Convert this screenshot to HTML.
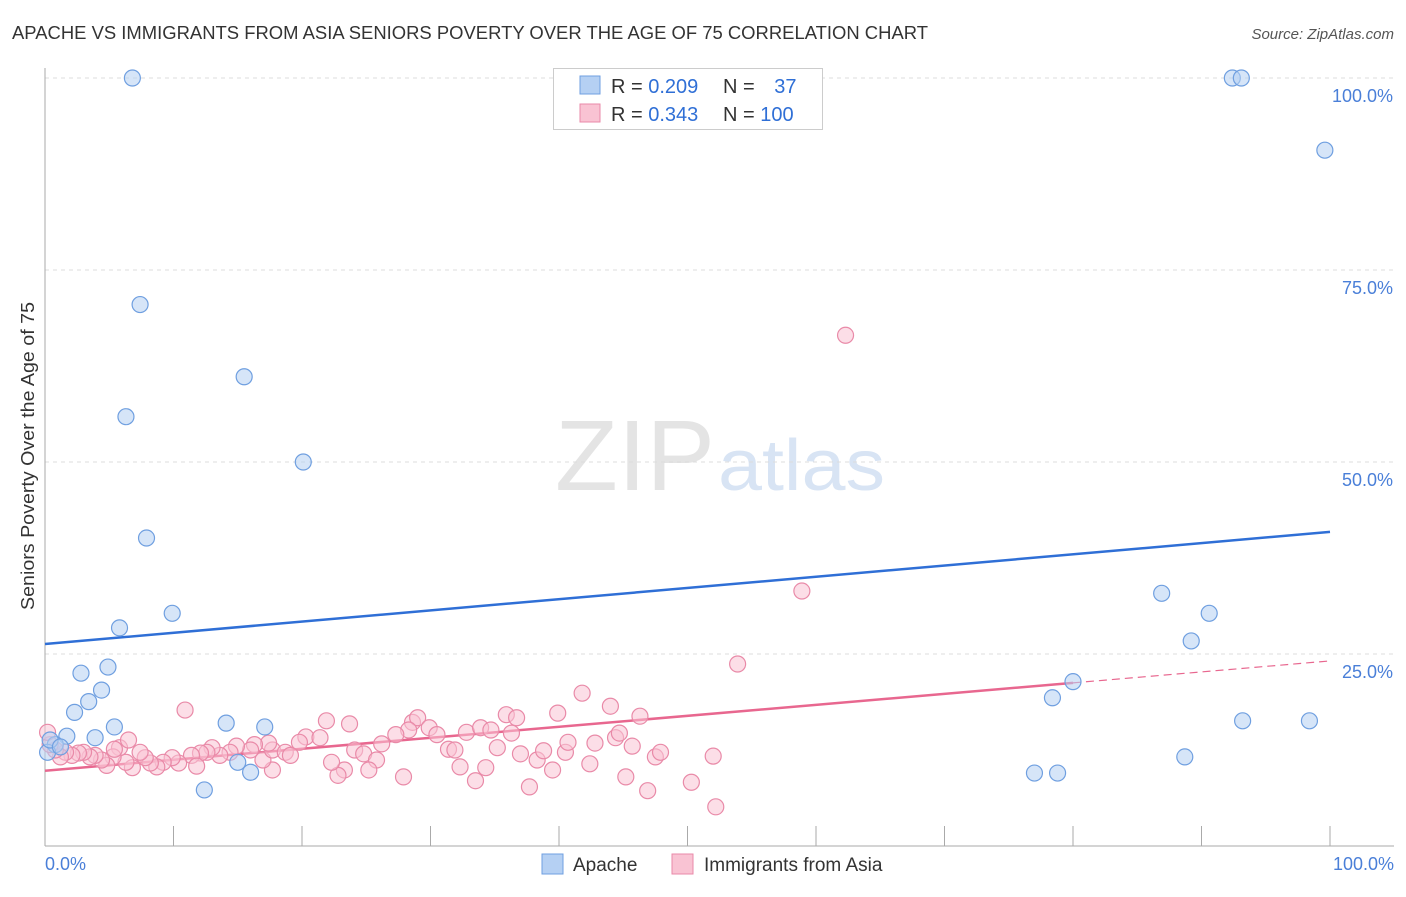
<!DOCTYPE html>
<html><head><meta charset="utf-8"><style>
body{margin:0;background:#fff;font-family:"Liberation Sans",sans-serif}
svg text{font-family:"Liberation Sans",sans-serif}
</style></head><body>
<svg id="chart" width="1406" height="892" viewBox="0 0 1406 892">
<text x="12" y="39" font-size="18" fill="#333" textLength="916" lengthAdjust="spacingAndGlyphs">APACHE VS IMMIGRANTS FROM ASIA SENIORS POVERTY OVER THE AGE OF 75 CORRELATION CHART</text>
<text x="1394" y="39" font-size="15" fill="#555" font-style="italic" text-anchor="end">Source: ZipAtlas.com</text>
<text x="555" y="490" font-size="100" fill="#e4e4e4" textLength="160" lengthAdjust="spacingAndGlyphs" font-family="Liberation Serif">ZIP</text>
<text x="718" y="490" font-size="72" fill="#d8e4f4" textLength="167" lengthAdjust="spacingAndGlyphs">atlas</text>
<g id="grid"></g><g id="axes"></g><g id="lines"></g><g id="pts"></g>
<text transform="translate(34,456) rotate(-90)" font-size="18" fill="#333" text-anchor="middle" textLength="308" lengthAdjust="spacingAndGlyphs">Seniors Poverty Over the Age of 75</text>
<text x="45" y="870" font-size="18" fill="#4a7fd8">0.0%</text>
<text x="1394" y="870" font-size="18" fill="#4a7fd8" text-anchor="end">100.0%</text>
<g>
<rect x="553.5" y="68.5" width="269" height="61" fill="#fff" stroke="#ccc"/>
<rect x="580" y="76" width="20" height="18" fill="#b5d0f3" stroke="#6f9fe0"/>
<rect x="580" y="104" width="20" height="18" fill="#f9c3d3" stroke="#e98aa8"/>
<text x="611" y="93" font-size="20" fill="#333">R = <tspan fill="#2f6fd6">0.209</tspan></text>
<text x="723" y="93" font-size="20" fill="#333">N = <tspan fill="#2f6fd6" dx="14">37</tspan></text>
<text x="611" y="121" font-size="20" fill="#333">R = <tspan fill="#2f6fd6">0.343</tspan></text>
<text x="723" y="121" font-size="20" fill="#333">N = <tspan fill="#2f6fd6">100</tspan></text>
</g>
<g>
<rect x="542" y="854" width="21" height="20" fill="#b5d0f3" stroke="#6f9fe0"/>
<text x="573" y="871" font-size="19" fill="#333">Apache</text>
<rect x="672" y="854" width="21" height="20" fill="#f9c3d3" stroke="#e98aa8"/>
<text x="704" y="871" font-size="19" fill="#333">Immigrants from Asia</text>
</g>
</svg>
<script>
const blueX=[6.8,92.4,93.1,99.6,7.4,15.5,6.3,20.1,7.9,9.9,5.8,86.9,90.6,89.2,2.8,4.9,4.4,3.4,2.3,5.4,14.1,17.1,80,78.4,93.2,98.4,88.7,77,78.8,3.9,1.7,0.8,0.2,0.4,15,16,12.4,1.2];
const blueY=[100,100,100,90.6,70.5,61.1,55.9,50,40.1,30.3,28.4,32.9,30.3,26.7,22.5,23.3,20.3,18.8,17.4,15.5,16,15.5,21.4,19.3,16.3,16.3,11.6,9.5,9.5,14.1,14.3,13.2,12.2,13.8,10.9,9.6,7.3,12.9];
const pinkX=[62.3,58.9,53.9,10.9,41.8,44,46.3,35.9,36.7,39.9,21.9,23.7,28.6,29,28.3,29.9,30.5,32.8,33.9,34.7,36.3,20.3,21.4,19.8,27.3,26.2,24.1,24.8,31.4,31.9,35.2,37,38.3,38.8,40.5,40.7,42.8,44.4,44.7,45.7,47.5,47.9,52,42.4,45.2,46.9,50.3,52.2,39.5,37.7,33.5,34.3,32.3,27.9,25.8,25.2,23.3,22.8,22.3,17.7,16.96,17.7,18.7,19.1,17.4,16.3,16,14.9,14.4,13.6,13,12.6,12.1,11.4,11.8,10.4,9.9,9.2,8.7,8.2,7.8,7.4,6.8,6.3,5.8,5.3,4.8,4.4,3.9,3.5,3,2.6,2.1,1.6,1.2,0.8,0.4,0.2,6.5,5.4];
const pinkY=[66.5,33.2,23.7,17.7,19.9,18.2,16.9,17.1,16.7,17.3,16.3,15.9,16.1,16.7,15.1,15.4,14.5,14.8,15.4,15.1,14.7,14.2,14.1,13.5,14.5,13.3,12.5,12,12.6,12.5,12.8,12,11.2,12.4,12.2,13.5,13.4,14.1,14.7,13,11.6,12.2,11.7,10.7,9,7.2,8.3,5.1,9.9,7.7,8.5,10.2,10.3,9,11.2,9.9,9.9,9.2,10.9,9.9,11.2,12.5,12.2,11.8,13.4,13.2,12.5,13,12.2,11.8,12.8,12.2,12.1,11.8,10.4,10.8,11.5,10.9,10.3,10.8,11.5,12.2,10.2,10.9,12.8,11.6,10.5,11.2,11.8,11.6,12.2,12.1,11.8,12.2,11.6,12.5,13.2,14.8,13.8,12.6];
const blueTrend=[26.3,40.9];
const pinkTrend=[9.8,24.1];
const pinkSolidEnd=80;
const yTicks=[25,50,75,100];
const yTickLabels=["25.0%","50.0%","75.0%","100.0%"];
const xTicks=[0,10,20,30,40,50,60,70,80,90,100];
const NS="http://www.w3.org/2000/svg";
const X=v=>45+v*12.85, Y=v=>846-v*7.68;
function mk(tag,attrs,parent){const e=document.createElementNS(NS,tag);for(const k in attrs)e.setAttribute(k,attrs[k]);document.getElementById(parent).appendChild(e);return e;}
yTicks.forEach((t,i)=>{
 const g=mk('line',{x1:45,x2:1394,y1:Y(t),y2:Y(t),stroke:'#ddd','stroke-dasharray':'4,4'},'grid');
 
 
 const tx=mk('text',{x:1393,y:Y(t)+24,'font-size':18,fill:'#4a7fd8','text-anchor':'end'},'grid');
 tx.textContent=yTickLabels[i];
 
 
});
const ax=mk('line',{x1:45,x2:45,y1:68,y2:846,stroke:'#aaa'},'axes');


const bx=mk('line',{x1:45,x2:1394,y1:846,y2:846,stroke:'#aaa'},'axes');


xTicks.forEach(t=>{
 const l=mk('line',{x1:X(t),x2:X(t),y1:826,y2:846,stroke:'#aaa'},'axes');
 
 
});
function dot(x,y,fill,stroke,name){
 const c=mk('circle',{cx:X(x),cy:Y(y),r:8,fill:fill,'fill-opacity':0.55,stroke:stroke,'stroke-width':1.2},'pts');
 
 
}
pinkX.forEach((x,i)=>dot(x,pinkY[i],'#f9c3d3','#e98aa8','asia-point'));
blueX.forEach((x,i)=>dot(x,blueY[i],'#b5d0f3','#6f9fe0','apache-point'));
const bl=mk('line',{x1:X(0),y1:Y(blueTrend[0]),x2:X(100),y2:Y(blueTrend[1]),stroke:'#2f6fd6','stroke-width':2.5},'lines');


const pm=pinkTrend[0]+(pinkTrend[1]-pinkTrend[0])*pinkSolidEnd/100;
const pl=mk('line',{x1:X(0),y1:Y(pinkTrend[0]),x2:X(pinkSolidEnd),y2:Y(pm),stroke:'#e8678f','stroke-width':2.5},'lines');


const pd=mk('line',{x1:X(pinkSolidEnd),y1:Y(pm),x2:X(100),y2:Y(pinkTrend[1]),stroke:'#e8678f','stroke-width':1.2,'stroke-dasharray':'8,5'},'lines');


</script>
</body></html>
